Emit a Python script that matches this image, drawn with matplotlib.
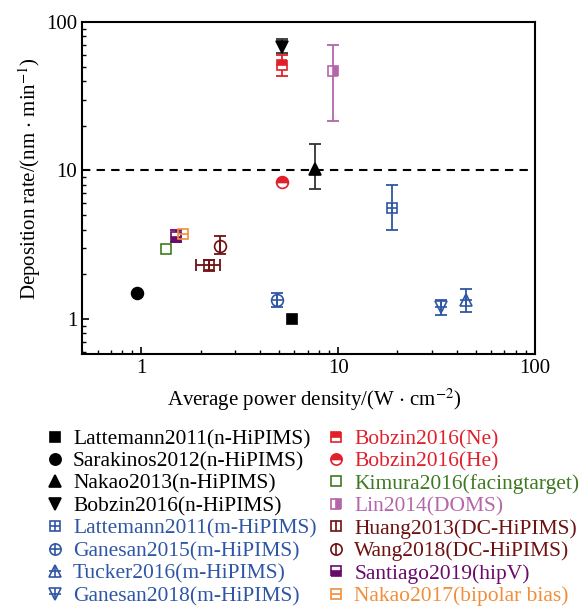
import matplotlib.pyplot as plt
from matplotlib.legend_handler import HandlerTuple

plt.rcParams['font.family'] = ['Liberation Serif', 'DejaVu Serif']
plt.rcParams['mathtext.fontset'] = 'stix'

# data
labels = ["Lattemann2011(n-HiPIMS)", "Sarakinos2012(n-HiPIMS)", "Nakao2013(n-HiPIMS)",
          "Bobzin2016(n-HiPIMS)", "Lattemann2011(m-HiPIMS)", "Ganesan2015(m-HiPIMS)",
          "Tucker2016(m-HiPIMS)", "Ganesan2018(m-HiPIMS)", "Bobzin2016(Ne)", "Bobzin2016(He)",
          "Kimura2016(facingtarget)", "Lin2014(DOMS)", "Huang2013(DC-HiPIMS)",
          "Wang2018(DC-HiPIMS)", "Santiago2019(hipV)", "Nakao2017(bipolar bias)"]
power = [5.8, 0.95, 7.6, 5.2, 18.7, 4.9, 44.6, 33.3, 5.2, 5.2, 1.33, 9.4, 2.2, 2.5, 1.5, 1.63]
rate = [1.0, 1.5, 10.3, 68, 5.6, 1.35, 1.35, 1.2, 51.5, 8.3, 2.95, 46.5, 2.3, 3.1, 3.55, 3.75]
rate_lo = [0, 0, 7.5, 62, 4.0, 1.21, 1.11, 1.07, 43.5, 0, 0, 21.4, 2.1, 2.75, 3.3, 0]
rate_hi = [0, 0, 15, 77, 8.0, 1.5, 1.6, 1.33, 60, 0, 0, 70, 2.5, 3.6, 4.0, 0]
power_lo = [0] * 12 + [1.9, 0, 0, 0]
power_hi = [0] * 12 + [2.5, 0, 0, 0]

# styles
blue, red, green, pink = "#2F56A5", "#E0202B", "#3F7A22", "#B466A8"
dred, purple, orange = "#6E1111", "#6A0A6A", "#F28E3A"
colors = ["black"] * 4 + [blue] * 4 + [red, red, green, pink, dred, dred, purple, orange]
markers = ["s", "o", "^", "v", "s", "o", "^", "v", "s", "o", "s", "s", "s", "o", "s", "s"]
fills = ["full"] * 4 + ["none"] * 4 + ["top", "top", "none", "right", "none", "none", "bottom", "none"]
inner = [None] * 4 + ["+"] * 4 + [None, None, None, None, "|", "|", None, "_"]

fig = plt.figure(figsize=(5.87, 6.07), dpi=100)
ax = fig.add_axes([0.1397, 0.4168, 0.7717, 0.547])

handles = []
for i in range(len(labels)):
    c = colors[i]
    x, y = power[i], rate[i]
    yerr = None
    if rate_lo[i] > 0:
        yerr = [[y - rate_lo[i]], [rate_hi[i] - y]]
    xerr = None
    if power_lo[i] > 0:
        xerr = [[x - power_lo[i]], [power_hi[i] - x]]
    if yerr is not None or xerr is not None:
        ax.errorbar([x], [y], yerr=yerr, xerr=xerr, fmt="none",
                    ecolor="#333333" if c == "black" else c,
                    elinewidth=1.3, capsize=4, capthick=1.3, zorder=2)
    ms = 8.5 if markers[i] in ("o", "^", "v") else 7.5
    h1, = ax.plot([x], [y], linestyle="none", marker=markers[i], ms=ms, mec=c,
                  mfc=c if fills[i] != "none" else "none", fillstyle=fills[i],
                  markerfacecoloralt="white", mew=1.2, zorder=3)
    hs = [h1]
    if inner[i]:
        h2, = ax.plot([x], [y], linestyle="none", marker=inner[i], ms=ms, mec=c,
                      mew=1.2, zorder=4)
        hs.append(h2)
    handles.append(tuple(hs))

ax.axhline(10, color="black", linestyle="--", linewidth=1.5, dashes=(4, 3), zorder=1)

ax.set_xscale("log")
ax.set_yscale("log")
ax.set_xlim(0.5, 100)
ax.set_ylim(0.58, 100)
ax.set_xticks([1, 10, 100])
ax.set_xticklabels(["1", "10", "100"])
ax.set_yticks([1, 10, 100])
ax.set_yticklabels(["1", "10", "100"])
ax.tick_params(which="both", direction="in", labelsize=15)
ax.tick_params(which="major", length=5, width=1.2)
ax.tick_params(which="minor", length=3, width=1)
for s in ax.spines.values():
    s.set_linewidth(1.5)

ax.set_xlabel(r"Average power density/(W $\cdot$ cm$^{-2}$)", fontsize=15, labelpad=6)
ax.set_ylabel(r"Deposition rate/(nm $\cdot$ min$^{-1}$)", fontsize=15, labelpad=2)
ax.xaxis.label.set_x(0.513)
ax.yaxis.label.set_y(0.53)

leg = fig.legend(handles, labels, ncol=2, loc="upper left", bbox_to_anchor=(0.0565, 0.311),
                 frameon=False, fontsize=15.5, handlelength=1.0, handletextpad=0.35,
                 labelspacing=0.11, columnspacing=0.4, borderpad=0,
                 handler_map={tuple: HandlerTuple(ndivide=1, pad=0)}, markerscale=0.95)
for t, c in zip(leg.get_texts(), colors):
    t.set_color(c)

fig.savefig("out.png", dpi=100)
